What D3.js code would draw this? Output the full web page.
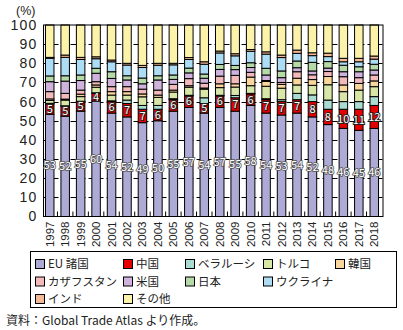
<!DOCTYPE html>
<html><head><meta charset="utf-8">
<script src="https://cdn.jsdelivr.net/npm/d3@7"></script>
<style>
html,body{margin:0;padding:0;background:#fff;}
svg{display:block;font-family:"Noto Sans CJK JP","Noto Sans",sans-serif;}
</style></head>
<body>
<svg id="chart" width="403" height="330"></svg>
<script>
const years = ["1997","1998","1999","2000","2001","2002","2003","2004","2005","2006","2007","2008","2009","2010","2011","2012","2013","2014","2015","2016","2017","2018"];
const seriesNames = ["EU 諸国","中国","ベラルーシ","トルコ","韓国","カザフスタン","米国","日本","ウクライナ","インド","その他"];
const colors = ["#aeaad6","#e50000","#abdcd2","#d8e7a7","#f9d69c","#f2baba","#cfb3dd","#b5d9a7","#addcf5","#f5b995","#fcf2aa"];
const euLabels = [53,52,55,60,54,52,49,50,55,57,54,57,55,58,54,53,54,52,48,46,45,46];
const cnLabels = [5,5,5,4,6,7,7,6,6,6,5,6,7,6,7,7,7,8,8,10,11,12];
const eu  = [53.4,52.4,55,60.3,54,52,49,50,55,57,54,57,55,58,54,53,54,52,48,46,45,46];
const cn  = [5.4,5.2,5,4,6,7,7,6,6,6,5,6,7,6,7,7,7,8,8,10,11,12];
const by  = [0.3,0.2,0.2,0.3,0.4,1.8,2,2,0.5,0.3,3,0.3,1.2,0.3,0.5,1,3.3,3.5,4.8,4,4,4.6];
const tr  = [1.5,3,2.4,2.9,3,2.6,4.5,4.2,3.5,4.2,4.5,4,4.4,4,6.5,6,4.4,5,8,5.2,6,5.2];
const kr  = [0.8,0.5,1.3,1.2,1.8,1.8,1.5,1.2,1,0.8,0.6,2,1.7,4.5,2.5,2,3.5,3,4.3,3.5,3.5,3];
const kz  = [3.8,3,2.1,1.7,2.6,2.6,2.5,2.6,3,3.7,2.5,4,4.4,2.5,0.5,1,3.4,2.5,2.6,4.3,3,3.1];
const us  = [5.2,6.4,5,4.4,4.3,3.5,2.8,5.3,2.6,3,2.6,3.5,3,2.5,2.9,2.5,2.1,2,1.8,2.6,3.1,2.6];
const jp  = [3,2.8,2.9,2.6,3.5,2.2,3,2.2,2.3,2.5,2.2,2.6,2.2,2.5,3.5,3.5,3.5,4.5,3.4,3.4,2.6,3];
const ua  = [9.2,9.6,8.1,5,5.2,5.6,5.5,5.5,5.3,4.5,5.1,6,5,6,7.4,7,4,3.5,2.6,1.8,2.6,2.7];
const ind = [0.5,1.2,1.1,1,0.9,0.9,1.1,1,0.8,1,1.3,1,1.1,0.9,1.2,1.3,1.7,1.5,1.8,1.8,1.8,1.6];
const yTicks = [0,10,20,30,40,50,60,70,80,90,100];
const rawSeries = [eu,cn,by,tr,kr,kz,us,jp,ua,ind];

const rows = years.map((y,i)=>{
  const r = {year:y};
  let s = 0;
  rawSeries.forEach((arr,k)=>{ r[seriesNames[k]] = arr[i]; s += arr[i]; });
  r[seriesNames[10]] = 100 - s;
  return r;
});

const svg = d3.select("#chart");
const x = d3.scaleBand().domain(years).range([42,382]).paddingInner(0.45).paddingOuter(0.225);
const y = d3.scaleLinear().domain([0,100]).range([216.5,25]);
const left = 43.5, right = 383;

// gridlines
svg.append("g").selectAll("line").data(yTicks.filter(t=>t>0&&t<100)).join("line")
  .attr("x1",left).attr("x2",right).attr("y1",d=>Math.round(y(d))+0.5).attr("y2",d=>Math.round(y(d))+0.5)
  .attr("stroke","#000").attr("stroke-width",1).attr("stroke-dasharray","6,3");

const stack = d3.stack().keys(seriesNames)(rows);
svg.append("g").selectAll("g").data(stack).join("g")
  .attr("fill",(d,i)=>colors[i])
  .selectAll("rect").data(d=>d).join("rect")
  .attr("x",d=>x(d.data.year)).attr("width",x.bandwidth())
  .attr("y",d=>y(d[1])).attr("height",d=>y(d[0])-y(d[1]))
  .attr("stroke","#000").attr("stroke-width",1);

// frame
svg.append("rect").attr("x",left).attr("y",y(100)).attr("width",right-left).attr("height",y(0)-y(100))
  .attr("fill","none").attr("stroke","#000").attr("stroke-width",1);

// y axis
const yAxis = svg.append("g").attr("transform",`translate(${left},0)`)
  .call(d3.axisLeft(y).tickValues(yTicks).tickSize(0).tickPadding(6));
yAxis.select(".domain").remove();
yAxis.selectAll("text").attr("font-size",14).attr("letter-spacing","1.2px").attr("fill","#222")
  .attr("font-family","'Liberation Sans',sans-serif");

// x ticks (inward at band boundaries)
svg.append("g").selectAll("line").data(years.slice(1)).join("line")
  .attr("x1",d=>x(d)-x.step()*x.paddingInner()/2).attr("x2",d=>x(d)-x.step()*x.paddingInner()/2)
  .attr("y1",y(0)).attr("y2",y(0)-5).attr("stroke","#000");

// x labels
const xAxis = svg.append("g").attr("transform",`translate(0,${y(0)})`)
  .call(d3.axisBottom(x).tickSize(0).tickPadding(0));
xAxis.select(".domain").remove();
xAxis.selectAll("text").attr("transform","rotate(-90)").attr("text-anchor","end")
  .attr("x",-5).attr("y",0).attr("dy","0.35em").attr("font-size",11.5).attr("fill","#222");

svg.append("text").attr("x",16).attr("y",15).attr("font-size",12.5)
  .attr("font-family","'Liberation Sans',sans-serif").attr("fill","#222").text("(%)");

// value labels
const lab = svg.append("g").attr("font-size",11).attr("text-anchor","middle");
years.forEach((yr,i)=>{
  lab.append("text").attr("x",x(yr)+x.bandwidth()/2).attr("y",y(eu[i]/2)).attr("dy","0.35em")
    .attr("fill","#fff").attr("stroke","#555").attr("stroke-width",1.6).attr("paint-order","stroke")
    .text(euLabels[i]);
  lab.append("text").attr("x",x(yr)+x.bandwidth()/2).attr("y",y(eu[i]+cn[i]/2)).attr("dy","0.35em")
    .attr("fill","#fff").attr("stroke","#222").attr("stroke-width",1.8).attr("paint-order","stroke")
    .text(cnLabels[i]);
});

// legend
svg.append("rect").attr("x",30.5).attr("y",251.5).attr("width",366).attr("height",56)
  .attr("fill","#fff").attr("stroke","#000");
const colX = [35,123,185,263,335];
const legPos = [[0,0],[1,0],[2,0],[3,0],[4,0],[0,1],[1,1],[2,1],[3,1],[0,2],[1,2]];
const leg = svg.append("g");
seriesNames.forEach((n,i)=>{
  const [c,r] = legPos[i];
  const gx = colX[c], gy = 264 + r*17.5;
  leg.append("rect").attr("x",gx+0.5).attr("y",gy-4.5).attr("width",9).attr("height",9)
    .attr("fill",colors[i]).attr("stroke","#000");
  leg.append("text").attr("x",gx+13).attr("y",gy).attr("dy","0.36em").attr("font-size",11.5).attr("fill","#222").text(n);
});

svg.append("text").attr("x",6).attr("y",321).attr("dy","0.35em").attr("font-size",12).attr("fill","#222")
  .text("資料：Global Trade Atlas より作成。");
</script>
</body></html>
